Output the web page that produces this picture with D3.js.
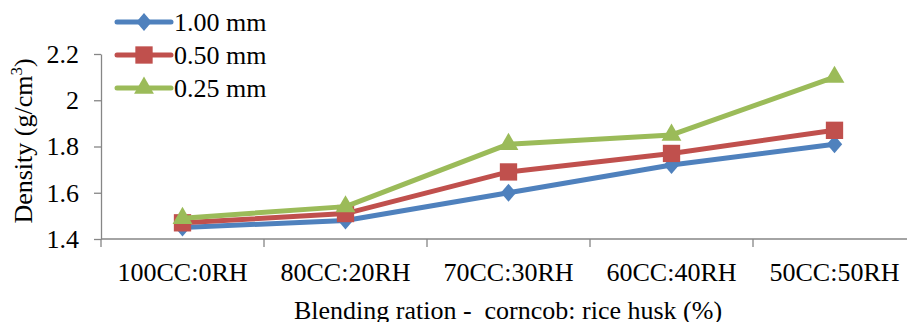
<!DOCTYPE html>
<html>
<head>
<meta charset="utf-8">
<script src="https://cdn.jsdelivr.net/npm/d3@7"></script>
<style>
  body { margin: 0; background: #fff; }
  svg text { font-family: "Liberation Serif", "Times New Roman", serif; fill: #000; }
</style>
</head>
<body>
<svg id="chart" width="907" height="322"></svg>
<script>
const categories = ['100CC:0RH', '80CC:20RH', '70CC:30RH', '60CC:40RH', '50CC:50RH'];
const seriesNames = ['1.00 mm', '0.50 mm', '0.25 mm'];
const mm100 = [1.45, 1.48, 1.60, 1.72, 1.81];
const mm050 = [1.47, 1.51, 1.69, 1.77, 1.87];
const mm025 = [1.49, 1.54, 1.81, 1.85, 2.10];
const yTicks = [1.4, 1.6, 1.8, 2, 2.2];

// wider diamond than d3's default one
const wideDiamond = {
  draw(ctx, size) {
    const h = Math.sqrt(size) * 0.56, w = h * 0.85;
    ctx.moveTo(0, -h); ctx.lineTo(w, 0); ctx.lineTo(0, h); ctx.lineTo(-w, 0); ctx.closePath();
  }
};

const series = [
  { name: seriesNames[0], values: mm100, color: '#4F81BD', symbol: wideDiamond, size: 260 },
  { name: seriesNames[1], values: mm050, color: '#C0504D', symbol: d3.symbolSquare, size: 300 },
  { name: seriesNames[2], values: mm025, color: '#9BBB59', symbol: d3.symbolTriangle, size: 170 }
];

const svg = d3.select('#chart');
const plotLeft = 101, plotRight = 916, plotTop = 54, plotBottom = 239;

const x = d3.scaleBand().domain(categories).range([plotLeft, plotRight]);
const y = d3.scaleLinear().domain([1.4, 2.2]).range([plotBottom, plotTop]);
const axisColor = '#868686';

// y axis
const yAxis = svg.append('g')
  .attr('transform', `translate(${plotLeft},0)`)
  .call(d3.axisLeft(y).tickValues(yTicks).tickSizeInner(7).tickSizeOuter(0).tickPadding(15).tickFormat(d => d));
yAxis.select('.domain').attr('stroke', axisColor).attr('stroke-width', 1.3);
yAxis.selectAll('.tick line').attr('stroke', axisColor).attr('stroke-width', 1.3);
yAxis.selectAll('.tick text').style('font-size', '26px').attr('fill', '#000')
  .style('font-family', '"Liberation Serif", serif');

// x axis with ticks at band boundaries
const xg = svg.append('g').attr('transform', `translate(0,${plotBottom})`);
xg.append('line').attr('x1', plotLeft).attr('x2', plotRight).attr('stroke', axisColor).attr('stroke-width', 1.3);
const bounds = categories.map(c => x(c)).concat([x(categories[categories.length - 1]) + x.bandwidth()]);
xg.selectAll('.xt').data(bounds).enter().append('line')
  .attr('x1', d => d).attr('x2', d => d).attr('y1', 0).attr('y2', 8)
  .attr('stroke', axisColor).attr('stroke-width', 1.3);
xg.selectAll('.xl').data(categories).enter().append('text')
  .attr('x', d => x(d) + x.bandwidth() / 2)
  .attr('y', 42)
  .attr('text-anchor', 'middle')
  .style('font-size', '26px')
  .text(d => d);

// axis titles
svg.append('text')
  .attr('x', 508).attr('y', 319)
  .attr('text-anchor', 'middle')
  .style('font-size', '26px')
  .style('white-space', 'pre')
  .text('Blending ration -  corncob: rice husk (%)');

const yt = svg.append('text')
  .attr('transform', 'translate(32,141) rotate(-90)')
  .attr('text-anchor', 'middle')
  .style('font-size', '26px');
yt.append('tspan').text('Density (g/cm');
yt.append('tspan').attr('dy', -10).style('font-size', '17px').text('3');
yt.append('tspan').attr('dy', 10).text(')');

// lines and markers
const line = d3.line()
  .x((d, i) => x(categories[i]) + x.bandwidth() / 2)
  .y(d => y(d));

series.forEach(s => {
  svg.append('path')
    .datum(s.values)
    .attr('d', line)
    .attr('fill', 'none')
    .attr('stroke', s.color)
    .attr('stroke-width', 5)
    .attr('stroke-linejoin', 'round');
  svg.selectAll(null).data(s.values).enter().append('path')
    .attr('d', d3.symbol().type(s.symbol).size(s.size))
    .attr('transform', (d, i) => `translate(${x(categories[i]) + x.bandwidth() / 2},${y(d)})`)
    .attr('fill', s.color);
});

// legend
const legend = svg.append('g');
series.forEach((s, i) => {
  const ly = 22 + i * 33;
  legend.append('line')
    .attr('x1', 117).attr('x2', 171).attr('y1', ly).attr('y2', ly)
    .attr('stroke', s.color).attr('stroke-width', 5).attr('stroke-linecap', 'round');
  legend.append('path')
    .attr('d', d3.symbol().type(s.symbol).size(s.size))
    .attr('transform', `translate(144,${ly})`)
    .attr('fill', s.color);
  legend.append('text')
    .attr('x', 174).attr('y', ly + 9)
    .style('font-size', '26px')
    .text(s.name);
});
</script>
</body>
</html>
